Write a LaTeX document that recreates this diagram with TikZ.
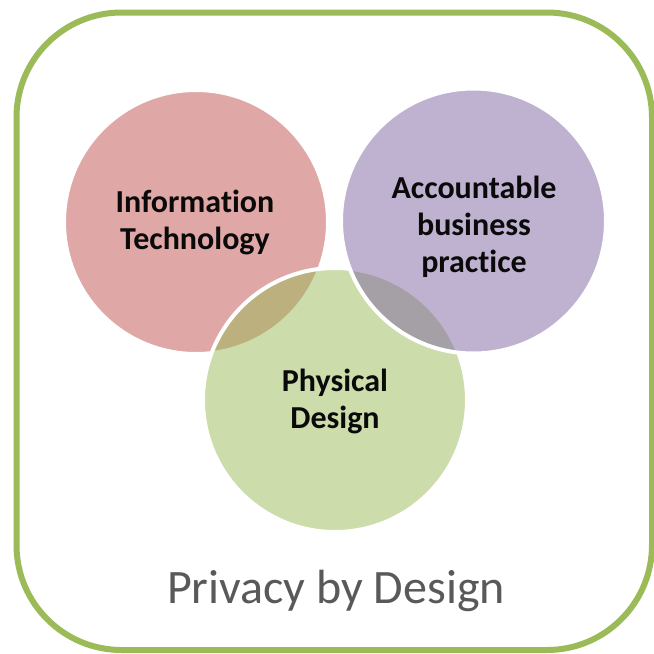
\documentclass[tikz,border=0pt]{standalone}
\usepackage{fontspec}
\setmainfont{Carlito}[Ligatures={NoCommon}]
\definecolor{frame}{HTML}{9BBB59}
\definecolor{cred}{HTML}{C0504D}
\definecolor{cgreen}{HTML}{9BBB59}
\definecolor{cpurple}{HTML}{8064A2}
\definecolor{title}{HTML}{595959}
\definecolor{ink}{HTML}{0A0A0A}
\tikzset{
  venn/.style={draw=white, line width=4pt, fill opacity=0.5, draw opacity=1},
  lbl/.style={font=\fontsize{32}{37}\selectfont\bfseries, text=ink, align=center, inner sep=0pt, anchor=base},
}
\begin{document}
\begin{tikzpicture}[x=1pt,y=-1pt]
\useasboundingbox (0,0) rectangle (654,654);
\fill[white] (0,0) rectangle (654,654);
\draw[frame, line width=6pt, rounded corners=105pt] (16.5,12.5) rectangle (652,650);
\path[venn, fill=cred] (196,222) circle[radius=132pt];
\path[venn, fill=cgreen] (335,400) circle[radius=132pt];
\path[venn, fill=cpurple] (473.5,221) circle[radius=132.5pt];
\node[lbl] (it) at (195,249) {Information\\Technology};
\node[lbl] (abp) at (474,272) {Accountable\\business\\practice};
\node[lbl] (pd) at (335,428) {Physical\\Design};
\node[font=\fontsize{48}{52}\selectfont, text=title, inner sep=0pt, anchor=base] (pbd) at (336,603) {Privacy by Design};
\end{tikzpicture}
\end{document}
